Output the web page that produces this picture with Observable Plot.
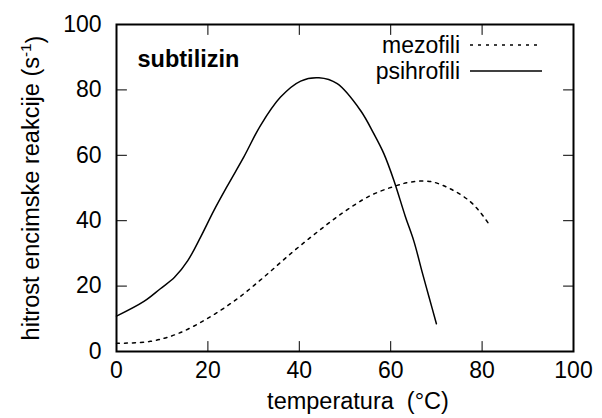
<!DOCTYPE html>
<html>
<head>
<meta charset="utf-8">
<script src="https://cdn.jsdelivr.net/npm/d3@7"></script>
<script src="https://cdn.jsdelivr.net/npm/@observablehq/plot@0.6"></script>
<style>
  html, body { margin: 0; padding: 0; background: white; }
</style>
</head>
<body>
<div id="chart"></div>
<script>
// ---- data ----
const psihroT = [0, 6, 9.6, 12.7, 15.6, 18.4, 21.3, 24.2, 27.9, 31.5, 35.9, 40.3, 44.3, 48.3, 53.4, 56.3, 58.5, 60.7, 63.2, 65.1, 66.9, 68.4, 70];
const psihroV = [10.8, 15.3, 19.2, 22.7, 27.8, 35, 43.1, 50.5, 59.6, 69.1, 77.8, 82.7, 83.7, 81.9, 73.7, 66.6, 60.5, 52.3, 41.3, 33.6, 24.2, 16.6, 8.5];
const mezoT = [0, 7.4, 13.3, 19.8, 26.4, 32.2, 38.1, 43.9, 49.7, 55.6, 61.4, 64.3, 68.7, 73.1, 77.1, 79.6, 81.7];
const mezoV = [2.5, 3.1, 5.4, 10, 16.1, 22.7, 29.9, 36.5, 42.6, 47.7, 50.8, 51.8, 52, 49.7, 46.2, 42.6, 38.5];
const xTicks = [0, 20, 40, 60, 80, 100];
const yTicks = [0, 20, 40, 60, 80, 100];
const seriesNames = ["mezofili", "psihrofili"];
const seriesDash = ["3,5", null];
const title = "subtilizin";
const xLabel = "temperatura  (°C)";
const yLabelMain = "hitrost encimske reakcije (s";
const yLabelSup = "-1";
const yLabelEnd = ")";

const psihro = psihroT.map((t, i) => ({t, v: psihroV[i]}));
const mezo = mezoT.map((t, i) => ({t, v: mezoV[i]}));

const FONT = "'Liberation Sans', Arial, Helvetica, sans-serif";
const tickShape = {draw(c, l) { c.moveTo(0, 0); c.lineTo(0, -l); }};
const tickOpts = {length: 10, anchor: "start", shape: tickShape, stroke: "black", strokeWidth: 1};

// legend as a custom render mark
function legendMark(index, scales, values, dims) {
  const g = d3.create("svg:g");
  const right = dims.width - dims.marginRight;
  const top = dims.marginTop;
  seriesNames.forEach((name, i) => {
    const y = top + 21 + i * 26;
    g.append("text")
      .attr("x", right - 113).attr("y", y).attr("dy", "0.35em")
      .attr("text-anchor", "end")
      .attr("font-size", 23).attr("font-family", FONT).attr("fill", "black")
      .text(name);
    g.append("line")
      .attr("x1", right - 103).attr("x2", right - 31)
      .attr("y1", y).attr("y2", y)
      .attr("stroke", "black").attr("stroke-width", 1.5)
      .attr("stroke-dasharray", seriesDash[i]);
  });
  return g.node();
}

const chart = Plot.plot({
  width: 602,
  height: 418,
  marginLeft: 116,
  marginRight: 29,
  marginTop: 24,
  marginBottom: 67,
  style: {fontFamily: FONT, fontSize: "23px", color: "black", background: "white"},
  x: {domain: [0, 100]},
  y: {domain: [0, 100]},
  marks: [
    Plot.axisX(xTicks, {tickSize: 0, tickPadding: 10, label: null, fontSize: 23}),
    Plot.axisY(yTicks, {tickSize: 0, tickPadding: 15, label: null, fontSize: 23}),
    Plot.vectorX(xTicks, {...tickOpts, frameAnchor: "bottom", rotate: 0}),
    Plot.vectorX(xTicks, {...tickOpts, frameAnchor: "top", rotate: 180}),
    Plot.vectorY(yTicks, {...tickOpts, frameAnchor: "left", rotate: 90}),
    Plot.vectorY(yTicks, {...tickOpts, frameAnchor: "right", rotate: -90}),
    Plot.line(mezo, {x: "t", y: "v", stroke: "black", strokeWidth: 1.5, strokeDasharray: "3,5", curve: "catmull-rom"}),
    Plot.line(psihro, {x: "t", y: "v", stroke: "black", strokeWidth: 1.5, curve: "catmull-rom"}),
    Plot.frame({stroke: "black", strokeWidth: 2}),
    Plot.text([title], {text: d => d, frameAnchor: "top-left", dx: 21, dy: 26, lineAnchor: "top", textAnchor: "start", fontWeight: "bold", fontSize: 23.5}),
    Plot.text([xLabel], {text: d => d, frameAnchor: "bottom", dx: 13, dy: 57, lineAnchor: "bottom", fontSize: 23.5}),
    Plot.text([yLabelMain], {text: d => d, frameAnchor: "left", dx: -78, rotate: -90, lineAnchor: "bottom", textAnchor: "middle", fontSize: 23.5}),
    legendMark
  ]
});

// add superscript to the y label
d3.select(chart).selectAll("text").each(function() {
  if (this.textContent === yLabelMain) {
    const t = d3.select(this);
    t.text(null);
    t.append("tspan").text(yLabelMain);
    t.append("tspan").attr("dy", "-0.5em").attr("font-size", "0.65em").text(yLabelSup);
    t.append("tspan").attr("dy", "0.5em").text(yLabelEnd);
  }
});

document.getElementById("chart").appendChild(chart);
</script>
</body>
</html>
